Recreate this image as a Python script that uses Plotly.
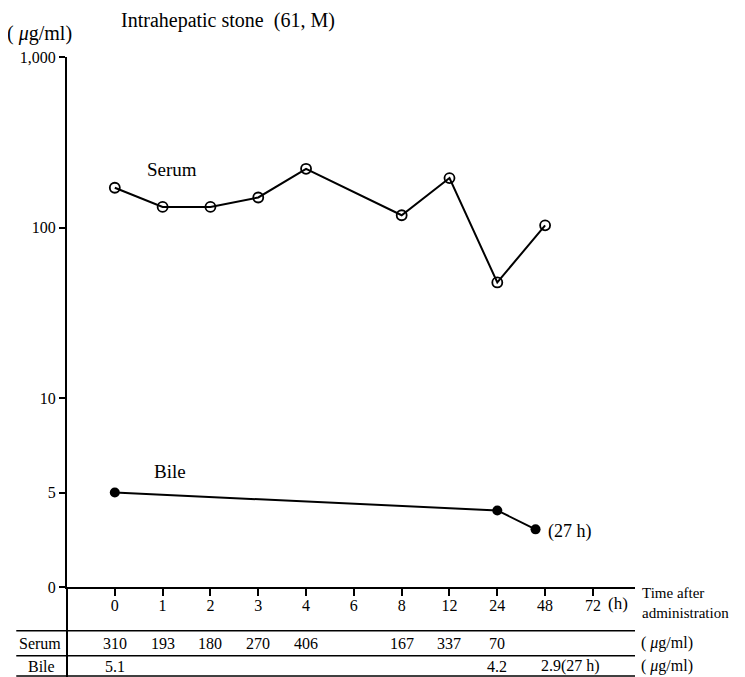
import plotly.graph_objects as go

# ---- data ----
time_labels = ["0", "1", "2", "3", "4", "6", "8", "12", "24", "48", "72"]
serum_hours = ["0", "1", "2", "3", "4", "8", "12", "24", "48"]
serum_plot = [171, 132, 132, 150, 221, 118, 195, 47.6, 103]   # plotted values (µg/ml)
bile_hours = ["0", "24", "27h"]
bile_plot = [5.0, 4.05, 3.05]
serum_table = ["310", "193", "180", "270", "406", "", "167", "337", "70", "", ""]
bile_table = ["5.1", "", "", "", "", "", "", "", "4.2", "", ""]
bile_table_extra = "2.9(27 h)"

# axis position of each time label (27h sits between 24 and 48 as drawn)
slot = {lab: i for i, lab in enumerate(time_labels)}
slot["27h"] = 8.8

FONT = "Liberation Serif"
fs = 16

fig = go.Figure()
fig.add_trace(go.Scatter(
    x=[slot[h] for h in serum_hours], y=serum_plot, xaxis="x", yaxis="y",
    mode="lines+markers", line=dict(color="black", width=2),
    marker=dict(symbol="circle-open", size=10, color="black", line=dict(width=1.8)),
    showlegend=False, cliponaxis=False))
fig.add_trace(go.Scatter(
    x=[slot[h] for h in bile_hours], y=bile_plot, xaxis="x", yaxis="y2",
    mode="lines+markers", line=dict(color="black", width=2),
    marker=dict(symbol="circle", size=10, color="black"),
    showlegend=False, cliponaxis=False))

H_PLOT = 530.0
W_PLOT = 571.0
low_frac = 189.0 / H_PLOT

# page has an 8px body margin, so the figure is offset by 8px
fig.update_layout(
    width=737, height=669,
    margin=dict(l=56, r=110, t=49, b=90),
    paper_bgcolor="white", plot_bgcolor="white",
    font=dict(family=FONT, size=fs, color="black"),
    xaxis=dict(range=[-1, 10.88], tickvals=list(range(len(time_labels))), ticktext=time_labels,
               showgrid=False, zeroline=False, showline=True, linecolor="black", linewidth=2,
               ticks="outside", ticklen=7, tickwidth=1.5, tickcolor="black",
               ticklabelstandoff=-4,
               anchor="y2", tickfont=dict(size=fs, family=FONT)),
    yaxis=dict(type="log", range=[1, 3], domain=[low_frac, 1],
               tickvals=[10, 100, 1000], ticktext=["10", "100", "1,000"],
               showgrid=False, zeroline=False, showline=True, linecolor="black", linewidth=2,
               ticks="outside", ticklen=6, tickwidth=1.5, tickcolor="black", anchor="x",
               tickfont=dict(size=fs, family=FONT)),
    yaxis2=dict(range=[0, 10], domain=[0, low_frac],
                tickvals=[0, 5], ticktext=["0", "5"],
                showgrid=False, zeroline=False, showline=True, linecolor="black", linewidth=2,
                ticks="outside", ticklen=6, tickwidth=1.5, tickcolor="black", anchor="x",
                tickfont=dict(size=fs, family=FONT)),
)

def py(pix):
    return (587.0 - pix) / H_PLOT

def px(pix):
    return (pix - 64.0) / W_PLOT

shapes = []
for yy in [630.7, 655.7, 676.0]:
    shapes.append(dict(type="line", xref="paper", yref="paper", x0=px(13), x1=px(635),
                       y0=py(yy), y1=py(yy), line=dict(color="black", width=1.5)))
shapes.append(dict(type="line", xref="paper", yref="paper", x0=0, x1=0,
                   y0=0, y1=py(677), line=dict(color="black", width=2)))
fig.update_layout(shapes=shapes)

ann = []
def add(text, x, y, xref="paper", xanchor="center", size=fs, yanchor="middle", align="center"):
    ann.append(dict(text=text, x=x, y=y, xref=xref, yref="paper", showarrow=False,
                    xanchor=xanchor, yanchor=yanchor, align=align, borderpad=0,
                    font=dict(size=size, family=FONT)))

add("Intrahepatic stone  (61, M)", px(117), py(8), xanchor="left", size=20, yanchor="top")
add("( <i>μ</i>g/ml)", px(3), py(33), xanchor="left", size=20)
add("Serum", 1.19, py(170), xref="x", size=19)
add("Bile", 1.15, py(471), xref="x", size=19)
add("(27 h)", px(547), py(531), xanchor="left", size=18)
add("(h)", px(607), py(603), xanchor="left", size=17)
add("Time after<br>administration", px(641), py(603), xanchor="left", size=15, align="left")
add("Serum", px(37), py(643), size=16)
add("Bile", px(38), py(666), size=16)
for i, v in enumerate(serum_table):
    if v:
        add(v, i, py(643), xref="x", size=fs)
for i, v in enumerate(bile_table):
    if v:
        add(v, i, py(666), xref="x", size=fs)
add(bile_table_extra, px(570), py(666), size=fs)
add("( <i>μ</i>g/ml)", px(640), py(643), xanchor="left", size=fs)
add("( <i>μ</i>g/ml)", px(640), py(666), xanchor="left", size=fs)
fig.update_layout(annotations=ann)

fig.write_html("out.html")
